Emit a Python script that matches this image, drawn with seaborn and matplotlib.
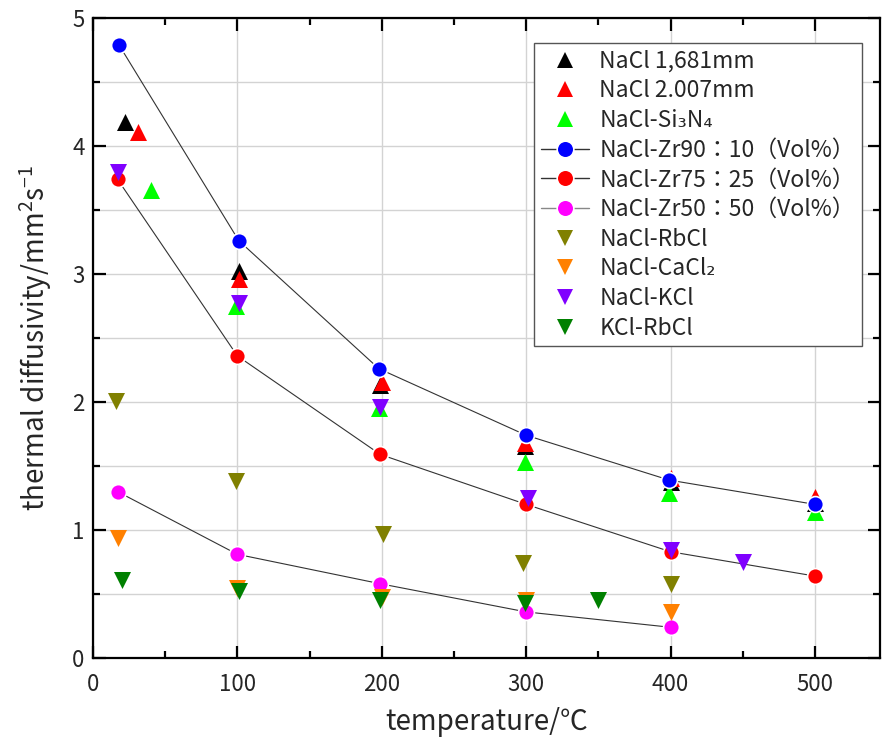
import pandas as pd
import matplotlib
matplotlib.use("Agg")
import matplotlib.pyplot as plt
from matplotlib.lines import Line2D
from matplotlib.ticker import MultipleLocator
import seaborn as sns

# temperature (deg C) / thermal diffusivity (mm2/s)
nacl_1681_t = [22, 101, 199, 299, 400, 500]
nacl_1681_d = [4.19, 3.02, 2.13, 1.66, 1.375, 1.21]
nacl_2007_t = [31, 101, 200, 299, 400, 500]
nacl_2007_d = [4.11, 2.96, 2.16, 1.68, 1.41, 1.26]
nacl_si3n4_t = [40, 99, 198, 299, 399, 500]
nacl_si3n4_d = [3.66, 2.75, 1.95, 1.53, 1.29, 1.14]
zr90_t = [18, 101, 198, 300, 399, 500]
zr90_d = [4.79, 3.26, 2.26, 1.74, 1.39, 1.20]
zr75_t = [17, 100, 199, 300, 400, 500]
zr75_d = [3.74, 2.36, 1.59, 1.20, 0.83, 0.64]
zr50_t = [17, 100, 199, 300, 400]
zr50_d = [1.30, 0.81, 0.58, 0.36, 0.24]
nacl_rbcl_t = [16, 99, 201, 298, 400]
nacl_rbcl_d = [2.01, 1.38, 0.97, 0.74, 0.58]
nacl_cacl2_t = [17, 100, 200, 300, 400]
nacl_cacl2_d = [0.94, 0.55, 0.48, 0.45, 0.36]
nacl_kcl_t = [17, 101, 199, 301, 400, 450]
nacl_kcl_d = [3.80, 2.77, 1.96, 1.25, 0.84, 0.75]
kcl_rbcl_t = [20, 101, 199, 299, 350]
kcl_rbcl_d = [0.61, 0.52, 0.45, 0.43, 0.45]

series = [
    ("NaCl 1,681mm", nacl_1681_t, nacl_1681_d, "^", "#000000", None),
    ("NaCl 2.007mm", nacl_2007_t, nacl_2007_d, "^", "#ff0000", None),
    ("NaCl-Si₃N₄", nacl_si3n4_t, nacl_si3n4_d, "^", "#00ff00", None),
    ("NaCl-Zr90：10（Vol%）", zr90_t, zr90_d, "o", "#0000ff", "#333333"),
    ("NaCl-Zr75：25（Vol%）", zr75_t, zr75_d, "o", "#ff0000", "#333333"),
    ("NaCl-Zr50：50（Vol%）", zr50_t, zr50_d, "o", "#ff00ff", "#888888"),
    ("NaCl-RbCl", nacl_rbcl_t, nacl_rbcl_d, "v", "#808000", None),
    ("NaCl-CaCl₂", nacl_cacl2_t, nacl_cacl2_d, "v", "#ff8000", None),
    ("NaCl-KCl", nacl_kcl_t, nacl_kcl_d, "v", "#8000ff", None),
    ("KCl-RbCl", kcl_rbcl_t, kcl_rbcl_d, "v", "#008000", None),
]

sns.set_theme(style="ticks")
plt.rcParams["font.family"] = ["Noto Sans CJK JP", "DejaVu Sans"]
plt.rcParams["mathtext.fontset"] = "custom"
plt.rcParams["mathtext.rm"] = "Noto Sans CJK JP"

fig = plt.figure(figsize=(8.82, 7.49), dpi=100)
ax = fig.add_axes([0.1054, 0.1215, 0.8923, 0.8545])

handles = []
for i, (name, t, d, mk, col, lcol) in enumerate(series):
    df = pd.DataFrame({"t": t, "d": d})
    joined = lcol is not None
    if joined:
        sns.lineplot(data=df, x="t", y="d", ax=ax, color="#333333", lw=0.8,
                     zorder=2, sort=False)
    sns.scatterplot(data=df, x="t", y="d", ax=ax, marker=mk, color=col,
                    s=150 if mk != "o" else 130, edgecolor="white",
                    linewidth=1.2 if joined else 0, zorder=3 + i)
    handles.append(Line2D([], [], marker=mk, color=lcol if joined else "none",
                          lw=1.0, markerfacecolor=col, markeredgecolor="white",
                          markeredgewidth=1.2 if joined else 0, markersize=12,
                          label=name))

ax.set_xlim(0, 545)
ax.set_ylim(0, 5)
ax.xaxis.set_major_locator(MultipleLocator(100))
ax.xaxis.set_minor_locator(MultipleLocator(50))
ax.yaxis.set_major_locator(MultipleLocator(1))
ax.yaxis.set_minor_locator(MultipleLocator(0.5))
ax.grid(True, which="major", axis="x", color="#d3d3d3", lw=1)
ax.grid(True, which="both", axis="y", color="#d3d3d3", lw=1)
ax.set_axisbelow(True)

for sp in ax.spines.values():
    sp.set_linewidth(1.6)
    sp.set_color("black")
ax.tick_params(which="both", direction="in", top=True, right=True,
               width=1.6, color="black", labelsize=16)
ax.tick_params(which="major", length=9)
ax.tick_params(which="minor", length=5)
ax.tick_params(axis="x", pad=11)
ax.tick_params(axis="y", pad=6)

ax.set_xlabel("temperature/℃", fontsize=20, labelpad=8)
ax.set_ylabel("thermal diffusivity/mm$^2$s$^{-1}$", fontsize=20, labelpad=13)

leg = ax.legend(handles=handles, loc="upper right", bbox_to_anchor=(0.977, 0.961),
                fontsize=16.5, frameon=True, fancybox=False, edgecolor="#555555",
                framealpha=1, handlelength=2.1, labelspacing=0.29,
                borderpad=0.3, handletextpad=0.45, borderaxespad=0)
leg.get_frame().set_linewidth(1.0)

fig.savefig("out.png", dpi=100)
